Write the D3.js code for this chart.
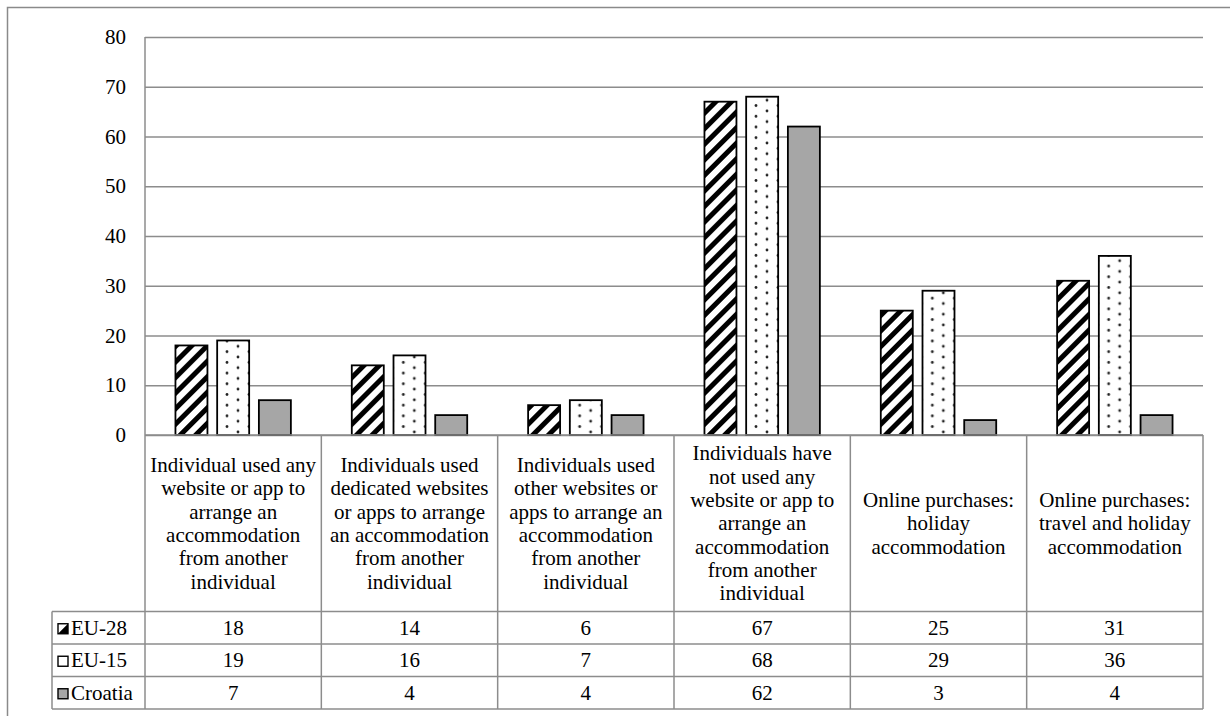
<!DOCTYPE html>
<html>
<head>
<meta charset="utf-8">
<script src="https://cdn.jsdelivr.net/npm/d3@7"></script>
<style>
  html, body { margin: 0; padding: 0; background: #fff; }
  svg text { font-family: "Liberation Serif", "Times New Roman", Times, "DejaVu Serif", serif; }
</style>
</head>
<body>
<svg id="chart" width="1230" height="716"></svg>
<script>
// --- data ---
const categories = [
  "Individual used any\nwebsite or app to\narrange an\naccommodation\nfrom another\nindividual",
  "Individuals used\ndedicated websites\nor apps to arrange\nan accommodation\nfrom another\nindividual",
  "Individuals used\nother websites or\napps to arrange an\naccommodation\nfrom another\nindividual",
  "Individuals have\nnot used any\nwebsite or app to\narrange an\naccommodation\nfrom another\nindividual",
  "Online purchases:\nholiday\naccommodation",
  "Online purchases:\ntravel and holiday\naccommodation"
];
const seriesNames = ["EU-28", "EU-15", "Croatia"];
const eu28 = [18, 14, 6, 67, 25, 31];
const eu15 = [19, 16, 7, 68, 29, 36];
const croatia = [7, 4, 4, 62, 3, 4];
const yTicks = [0, 10, 20, 30, 40, 50, 60, 70, 80];

const seriesValues = [eu28, eu15, croatia];

// --- layout ---
const svg = d3.select("#chart");
const plotLeft = 145, plotRight = 1203, plotTop = 37, zeroY = 435;
const headerBottom = 611.5;
const rowH = 32.5;
const legendLeft = 52;
const gridColor = "#8c8c8c";
const fontSize = 21;
const serif = '"Liberation Serif", "Times New Roman", Times, "DejaVu Serif", serif';

const x0 = d3.scaleBand().domain(d3.range(categories.length)).range([plotLeft, plotRight]);
const x1 = d3.scaleBand().domain(seriesNames).range([0, x0.bandwidth()])
  .paddingInner(0.233).paddingOuter(0.73);
const y = d3.scaleLinear().domain([0, 80]).range([zeroY, plotTop]);

// patterns
const defs = svg.append("defs");
const hatch = defs.append("pattern")
  .attr("id", "hatch")
  .attr("patternUnits", "userSpaceOnUse")
  .attr("width", 11).attr("height", 11)
  .attr("patternTransform", "rotate(45)");
hatch.append("rect").attr("width", 11).attr("height", 11).attr("fill", "#fff");
hatch.append("rect").attr("x", 0).attr("width", 5).attr("height", 11).attr("fill", "#000");

const dots = defs.append("pattern")
  .attr("id", "dots")
  .attr("patternUnits", "userSpaceOnUse")
  .attr("width", 22).attr("height", 10.7)
  .attr("x", 3).attr("y", 2);
dots.append("rect").attr("width", 22).attr("height", 10.7).attr("fill", "#fff");
dots.append("circle").attr("cx", 2).attr("cy", 2).attr("r", 1.4).attr("fill", "#222");
dots.append("circle").attr("cx", 13).attr("cy", 7.35).attr("r", 1.4).attr("fill", "#222");

const fills = { "EU-28": "url(#hatch)", "EU-15": "url(#dots)", "Croatia": "#a6a6a6" };

// outer frame (runs off the page right and bottom)
svg.append("rect")
  .attr("x", 7.5).attr("y", 7.5)
  .attr("width", 1260).attr("height", 760)
  .attr("fill", "none").attr("stroke", "#8a8a8a").attr("stroke-width", 1.5);

// gridlines + y labels
const yAxis = svg.append("g")
  .attr("transform", `translate(${plotLeft},0)`)
  .call(d3.axisLeft(y).tickValues(yTicks).tickSize(-(plotRight - plotLeft)).tickPadding(19).tickFormat(d3.format("d")));
yAxis.attr("font-family", null).attr("font-size", null);
yAxis.select(".domain").remove();
yAxis.selectAll(".tick line").attr("stroke", gridColor).attr("stroke-width", 1.5);
yAxis.selectAll(".tick text")
  .attr("fill", "#000")
  .style("font-size", fontSize + "px")
  .style("font-family", serif);

// bars
const groups = svg.append("g")
  .selectAll("g")
  .data(categories.map((c, i) => i))
  .join("g")
  .attr("transform", (i) => `translate(${x0(i)},0)`);

groups.selectAll("rect")
  .data((i) => seriesNames.map((s, k) => ({ s, v: seriesValues[k][i] })))
  .join("rect")
  .attr("x", (d) => x1(d.s))
  .attr("y", (d) => y(d.v))
  .attr("width", x1.bandwidth())
  .attr("height", (d) => zeroY - y(d.v))
  .attr("fill", (d) => fills[d.s])
  .attr("stroke", "#000")
  .attr("stroke-width", 1.8);

// --- data table ---
const tableBottom = headerBottom + rowH * seriesNames.length;
const tbl = svg.append("g")
  .attr("fill", "none")
  .attr("stroke", gridColor)
  .attr("stroke-width", 1.5);

// horizontal lines
tbl.append("line").attr("x1", plotLeft).attr("x2", plotRight).attr("y1", zeroY).attr("y2", zeroY);
d3.range(seriesNames.length + 1).forEach((r) => {
  const yy = headerBottom + r * rowH;
  tbl.append("line").attr("x1", legendLeft).attr("x2", plotRight).attr("y1", yy).attr("y2", yy);
});
// vertical lines
tbl.append("line").attr("x1", plotLeft).attr("x2", plotLeft).attr("y1", plotTop).attr("y2", tableBottom);
tbl.append("line").attr("x1", legendLeft).attr("x2", legendLeft).attr("y1", headerBottom).attr("y2", tableBottom);
d3.range(categories.length).forEach((i) => {
  const xx = x0(i) + x0.bandwidth();
  tbl.append("line").attr("x1", xx).attr("x2", xx).attr("y1", zeroY).attr("y2", tableBottom);
});

// category headers
const lineH = 23.3;
const headerMid = (zeroY + headerBottom) / 2;
categories.forEach((c, i) => {
  const lines = c.split("\n");
  const t = svg.append("text")
    .attr("text-anchor", "middle")
    .style("font-size", fontSize + "px")
    .style("font-family", serif)
    .attr("fill", "#000");
  const firstBase = headerMid - (lines.length - 1) * lineH / 2 + 7;
  lines.forEach((ln, j) => {
    t.append("tspan")
      .attr("x", x0(i) + x0.bandwidth() / 2)
      .attr("y", firstBase + j * lineH)
      .text(ln);
  });
});

// rows: legend key + values
seriesNames.forEach((s, r) => {
  const yMid = headerBottom + r * rowH + rowH / 2;
  const kx = 58, ks = 10, ky = yMid - ks / 2 + 1;
  if (s === "EU-28") {
    svg.append("rect").attr("x", kx).attr("y", ky).attr("width", ks).attr("height", ks)
      .attr("fill", "#fff").attr("stroke", "#000").attr("stroke-width", 1.4);
    svg.append("path")
      .attr("d", `M${kx + ks},${ky} L${kx + ks},${ky + ks} L${kx},${ky + ks} Z`)
      .attr("fill", "#000");
  } else {
    svg.append("rect").attr("x", kx).attr("y", ky).attr("width", ks).attr("height", ks)
      .attr("fill", s === "Croatia" ? "#a6a6a6" : "#fff")
      .attr("stroke", "#000").attr("stroke-width", 1.4);
  }
  svg.append("text")
    .attr("x", kx + ks + 3)
    .attr("y", yMid + 7)
    .style("font-size", fontSize + "px")
    .style("font-family", serif)
    .attr("fill", "#000")
    .text(s);

  seriesValues[r].forEach((v, i) => {
    svg.append("text")
      .attr("x", x0(i) + x0.bandwidth() / 2)
      .attr("y", yMid + 7)
      .attr("text-anchor", "middle")
      .style("font-size", fontSize + "px")
      .style("font-family", serif)
      .attr("fill", "#000")
      .text(v);
  });
});
</script>
</body>
</html>
